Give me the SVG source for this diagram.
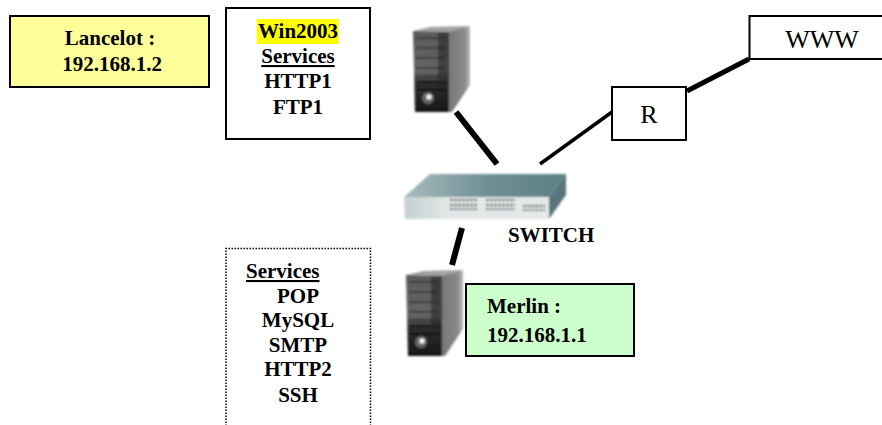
<svg xmlns="http://www.w3.org/2000/svg" xmlns:xlink="http://www.w3.org/1999/xlink" width="882" height="425" viewBox="0 0 882 425">
<style>
text{font-family:"Liberation Serif","Times New Roman",serif;fill:#000;font-size:21px}
.b{font-weight:bold}
.m{text-anchor:middle}
.big{font-size:26px}
.box{stroke:#000;stroke-width:2;fill:#fff}
.c{stroke:#000;fill:none}
</style>
<defs>
<filter id="soft" x="-5%" y="-5%" width="110%" height="110%"><feGaussianBlur stdDeviation="1"/></filter>
<linearGradient id="front" x1="0" y1="0" x2="0" y2="1"><stop offset="0" stop-color="#5a5a5a"/><stop offset="0.5" stop-color="#666"/><stop offset="0.65" stop-color="#2e2e2e"/><stop offset="1" stop-color="#161616"/></linearGradient>
<linearGradient id="side" x1="0" y1="0" x2="1" y2="0"><stop offset="0" stop-color="#777"/><stop offset="0.75" stop-color="#8a8a8a"/><stop offset="1" stop-color="#bbb"/></linearGradient>
<linearGradient id="swtop" x1="0" y1="0" x2="1" y2="0"><stop offset="0" stop-color="#a9bcbd"/><stop offset="0.5" stop-color="#6f9095"/><stop offset="1" stop-color="#5c7f87"/></linearGradient>
<linearGradient id="swfront" x1="0" y1="0" x2="1" y2="0"><stop offset="0" stop-color="#c5d0d0"/><stop offset="0.3" stop-color="#e2e6e6"/><stop offset="1" stop-color="#e4e8e8"/></linearGradient>
<g id="tower" filter="url(#soft)">
<path d="M0 5L17 1L57 0L36 6Z" fill="#a0a0a0"/>
<path d="M36 6L57 0V59L39 86H36Z" fill="url(#side)"/>
<path d="M0 5L36 6V86H2Z" fill="url(#front)"/>
<path d="M3 12H32M3 22H32M3 32H32M3 42H32M3 50H32" stroke="#3c3c3c" stroke-width="2"/>
<path d="M4 56H34M4 64H34" stroke="#111" stroke-width="2"/>
<path d="M25 6H36V60H25Z" fill="#222" opacity=".55"/>
<circle cx="15" cy="72" r="6" fill="#666"/>
<circle cx="16" cy="71" r="2.5" fill="#fff"/>
</g>
</defs>
<g id="connectors">
<line class="c" x1="456" y1="112" x2="497" y2="164" stroke-width="6"/>
<line class="c" x1="612" y1="112" x2="540" y2="164" stroke-width="3.5"/>
<line class="c" x1="687" y1="91" x2="749" y2="59" stroke-width="5"/>
<line class="c" x1="462" y1="228" x2="452" y2="265" stroke-width="6"/>
</g>
<g id="lancelot">
<rect x="10" y="16" width="199" height="71" fill="#ffff99" stroke="#000" stroke-width="2"/>
<text class="b m" x="110" y="45">Lancelot :</text>
<text class="b m" x="112" y="71">192.168.1.2</text>
</g>
<g id="win2003">
<rect class="box" x="226" y="8" width="144" height="131"/>
<rect x="257" y="19" width="82" height="25" fill="#ffff00"/>
<text class="b m" x="298" y="38">Win2003</text>
<text class="b m" x="298" y="63" text-decoration="underline">Services</text>
<text class="b m" x="298" y="88">HTTP1</text>
<text class="b m" x="298" y="114">FTP1</text>
</g>
<g id="services2">
<path d="M226 426V248.500H370.500V426" fill="#fff" stroke="#000" stroke-width="1.500" stroke-dasharray="1.500 1.500"/>
<text class="b" x="246" y="278" text-decoration="underline">Services</text>
<text class="b m" x="298" y="303">POP</text>
<text class="b m" x="298" y="327">MySQL</text>
<text class="b m" x="298" y="352">SMTP</text>
<text class="b m" x="298" y="376">HTTP2</text>
<text class="b m" x="298" y="402">SSH</text>
</g>
<g id="server1"><use xlink:href="#tower" href="#tower" x="413" y="26"/></g>
<g id="switch">
<g filter="url(#soft)">
<path d="M404 197L430 174H566L549 197Z" fill="url(#swtop)"/>
<path d="M549 197L566 174V195L549 219Z" fill="#56757c"/>
<path d="M404 197H549V219H405Z" fill="url(#swfront)"/>
<path d="M450 200H478M486 200H515M450 205H478M486 205H515M523 206H545" stroke="#3d4a50" stroke-width="2" stroke-dasharray="3 1"/>
<path d="M450 209H478M486 209H515M523 210H545" stroke="#3d4a50" stroke-width="1.500" stroke-dasharray="3 1"/>
</g>
<text class="b" x="508" y="242">SWITCH</text>
</g>
<g id="router">
<rect class="box" x="612" y="87" width="74" height="53"/>
<text x="649" y="123" class="m big">R</text>
</g>
<g id="www">
<path d="M882 16H749.500V59H882" fill="#fff" stroke="#000" stroke-width="2"/>
<text x="822" y="48" class="m big">WWW</text>
</g>
<g id="server2"><use xlink:href="#tower" href="#tower" x="406" y="270"/></g>
<g id="merlin">
<rect x="466" y="284" width="168" height="72" fill="#ccffcc" stroke="#000" stroke-width="2"/>
<text class="b" x="487" y="313">Merlin :</text>
<text class="b" x="487" y="342">192.168.1.1</text>
</g>
</svg>
